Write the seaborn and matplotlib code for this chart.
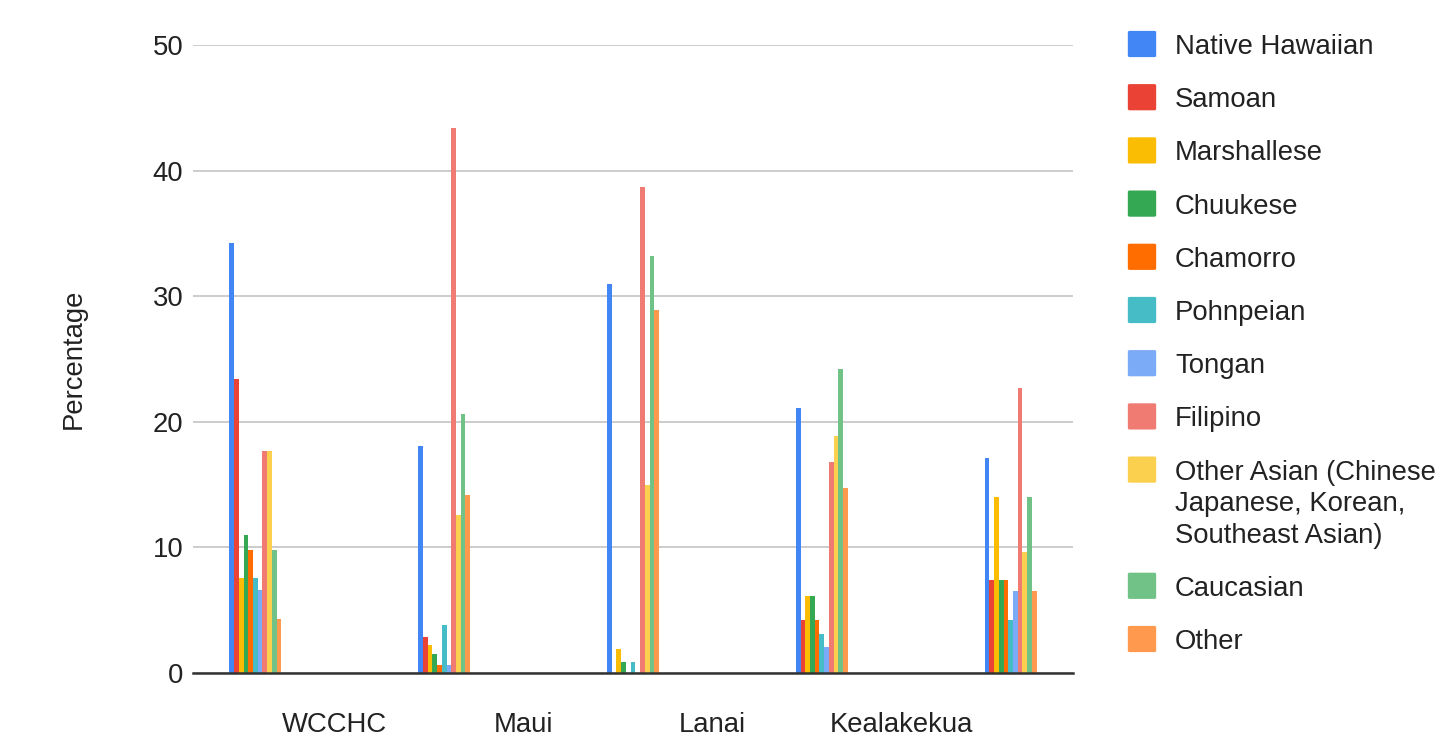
import matplotlib
matplotlib.use("Agg")
import matplotlib.pyplot as plt
from matplotlib.patches import FancyBboxPatch
import seaborn as sns
import pandas as pd

# Five survey sites (only four carry an axis label) and eleven ethnic groups
site_keys = ["WCCHC", "Maui", "Lanai", "Kealakekua", "Site 5"]
tick_labels = ["WCCHC", "Maui", "Lanai", "Kealakekua"]

groups = [
    "Native Hawaiian", "Samoan", "Marshallese", "Chuukese", "Chamorro",
    "Pohnpeian", "Tongan", "Filipino",
    "Other Asian (Chinese\nJapanese, Korean,\nSoutheast Asian)",
    "Caucasian", "Other",
]

# Percentage of each group per site (site order as in site_keys)
native_hawaiian = [34.2, 18.1, 31.0, 21.1, 17.1]
samoan          = [23.4, 2.9, 0.0, 4.2, 7.4]
marshallese     = [7.6, 2.2, 1.9, 6.1, 14.0]
chuukese        = [11.0, 1.5, 0.9, 6.1, 7.4]
chamorro        = [9.8, 0.6, 0.0, 4.2, 7.4]
pohnpeian       = [7.6, 3.8, 0.9, 3.1, 4.2]
tongan          = [6.6, 0.6, 0.0, 2.1, 6.5]
filipino        = [17.7, 43.4, 38.7, 16.8, 22.7]
other_asian     = [17.7, 12.6, 15.0, 18.9, 9.6]
caucasian       = [9.8, 20.6, 33.2, 24.2, 14.0]
other           = [4.3, 14.2, 28.9, 14.7, 6.5]

series = [native_hawaiian, samoan, marshallese, chuukese, chamorro, pohnpeian,
          tongan, filipino, other_asian, caucasian, other]

colors = ["#4285F4", "#EA4335", "#FBBC04", "#34A853", "#FF6D01", "#46BDC6",
          "#7BAAF7", "#F07B72", "#FCD04F", "#71C287", "#FF994D"]

rows = []
for g, vals in zip(groups, series):
    for s, v in zip(site_keys, vals):
        rows.append({"site": s, "group": g, "pct": v})
df = pd.DataFrame(rows)

sns.set_theme(style="white")
plt.rcParams["font.family"] = ["Liberation Sans", "DejaVu Sans"]
FS = 19.8
TXT = "#222222"
W, H = 1447, 743

fig = plt.figure(figsize=(W / 100, H / 100), dpi=100)
ax = fig.add_axes([193 / W, 70 / H, 880 / W, 628 / H])

sns.barplot(data=df, x="site", y="pct", hue="group", order=site_keys,
            hue_order=groups, palette=colors, width=0.275, dodge=True,
            linewidth=0, errorbar=None, saturation=1, ax=ax, zorder=3,
            legend=False)

ax.set_xlim(-0.33, 4.33)
ax.set_ylim(0, 50)
ax.set_yticks([0, 10, 20, 30, 40, 50])
ax.set_yticklabels(["0", "10", "20", "30", "40", "50"], fontsize=FS, color=TXT)
ax.set_xticks([i + 0.42 for i in range(len(tick_labels))])
ax.set_xticklabels(tick_labels, fontsize=FS, color=TXT)
ax.tick_params(axis="y", length=0, pad=7)
ax.tick_params(axis="x", length=0, pad=28)

ax.grid(axis="y", color="#cccccc", linewidth=1.4, zorder=0)
ax.set_axisbelow(True)
for side in ["left", "right", "top"]:
    ax.spines[side].set_visible(False)
ax.spines["bottom"].set_color("#333333")
ax.spines["bottom"].set_linewidth(1.8)
ax.spines["bottom"].set_zorder(5)

ax.set_xlabel("")
ax.set_ylabel("Percentage", fontsize=FS, color=TXT)
ax.yaxis.set_label_coords(-0.121, 0.5)

# Legend column on the right: rounded colour swatch + label, first line
# of a wrapped label aligned with its swatch
row_step, line_step = 53.2, 31.5
y = 44.0
for name, col in zip(groups, colors):
    lines = name.split("\n")
    fig.patches.append(FancyBboxPatch(
        (1130 / W, 1 - (y + 12) / H), 24 / W, 24 / H,
        boxstyle="round,pad=0.0015", transform=fig.transFigure,
        facecolor=col, edgecolor="none"))
    for j, line in enumerate(lines):
        fig.text(1175 / W, 1 - (y + j * line_step) / H, line, fontsize=FS,
                 color=TXT, ha="left", va="center_baseline")
    y += row_step + line_step * (len(lines) - 1)

fig.savefig("out.png", dpi=100)
